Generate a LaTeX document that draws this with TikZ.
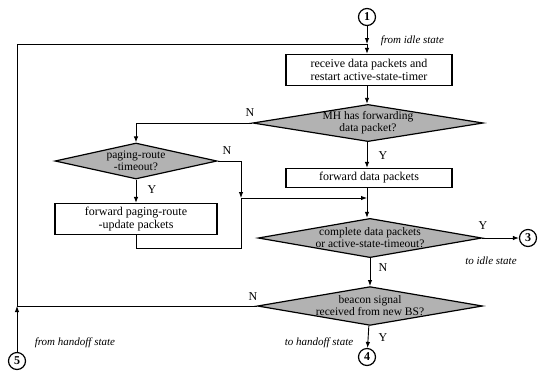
\documentclass[tikz,border=0pt]{standalone}
\usepackage{fontspec}
\setmainfont{Liberation Serif}
\usetikzlibrary{shapes.geometric,arrows.meta}

\begin{document}
\begin{tikzpicture}[x=1pt,y=-1pt,
  line width=0.9pt,
  arr/.style={-{Latex[length=6pt,width=4.5pt]}},
  procbox/.style={draw,line width=1.2pt,fill=white,align=center,inner sep=0pt,
    minimum width=166pt,font=\fontsize{12}{13}\selectfont},
  decision/.style={diamond,draw,line width=1.2pt,fill=black!30,align=center,
    inner sep=0pt,font=\fontsize{11.5}{12}\selectfont},
  conn/.style={circle,draw,line width=1.2pt,minimum size=17pt,inner sep=0pt,
    font=\fontsize{12}{12}\selectfont\bfseries},
  lab/.style={font=\fontsize{12}{12}\selectfont},
  note/.style={font=\fontsize{11}{12}\selectfont\itshape}]
\useasboundingbox (0,0) rectangle (546,373);

% connectors to other states
\node[conn] (c1) at (367,17) {1};
\node[conn] (c3) at (528,238) {3};
\node[conn] (c4) at (367,357) {4};
\node[conn] (c5) at (17,361) {5};

% processing boxes
\node[procbox,minimum height=31pt] (b1) at (369,70)
  {receive data packets and\\restart active-state-timer};
\node[procbox,minimum height=19pt] (b3) at (369,178) {forward data packets};
\node[procbox,minimum height=31pt,minimum width=162pt] (b2) at (136,219)
  {forward paging-route\\-update packets};

% decisions
\node[decision,minimum width=210pt,minimum height=34pt,aspect=6.2] (d1) at (368,123)
  {MH has forwarding\\data packet?};
\node[decision,minimum width=162pt,minimum height=36pt,aspect=4.5] (d2) at (136,161)
  {paging-route\\-timeout?};
\node[decision,minimum width=206pt,minimum height=36pt,aspect=5.7] (d3) at (370,238)
  {complete data packets\\or active-state-timeout?};
\node[decision,minimum width=210pt,minimum height=36pt,aspect=5.8] (d4) at (370,306)
  {beacon signal\\received from new BS?};

% junction points
\coordinate (j1) at (367,44);
\coordinate (tl) at (17,44);
\coordinate (l5) at (17,306);
\coordinate (j2) at (367,198);
\coordinate (j3) at (241,198);
\coordinate (lb) at (241,248);

% main flow
\draw[arr] (c1) -- (j1);
\draw[arr] (j1) -- (b1.north -| j1);
\draw[arr] (b1.south -| j1) -- (d1.north -| j1);
\draw[arr] (d1.south -| j1) -- (b3.north -| j1);
\draw[arr] (b3.south -| j1) -- (d3.north -| j1);
\draw[arr] (d3) -- (d4);
\draw[arr] (d4) -- (c4);
\draw[arr] (d3.east) -- (c3);

% paging-route branch
\draw[arr] (d1.west) -| (d2.north);
\draw[arr] (d2) -- (b2);
\draw[arr] (d2.east) -| (j3);
\draw (b2.south) |- (lb) -- (j3);
\draw[arr] (j3) -- (j2);

% return loop and handoff entry
\draw[arr] (c5) -- (l5);
\draw (d4.west) -- (l5) -- (tl) -- (j1);

% branch labels
\node[lab] at (250,113) {N};
\node[lab] at (152,190) {Y};
\node[lab] at (227,151) {N};
\node[lab] at (383,156) {Y};
\node[lab] at (483,226) {Y};
\node[lab] at (383,268) {N};
\node[lab] at (253,297) {N};
\node[lab] at (383,338) {Y};

% state notes
\node[note,anchor=west] at (377,41) {from idle state};
\node[note] at (491,261) {to idle state};
\node[note,anchor=east] at (357,343) {to handoff state};
\node[note,anchor=west] at (31,343) {from handoff state};
\end{tikzpicture}
\end{document}
